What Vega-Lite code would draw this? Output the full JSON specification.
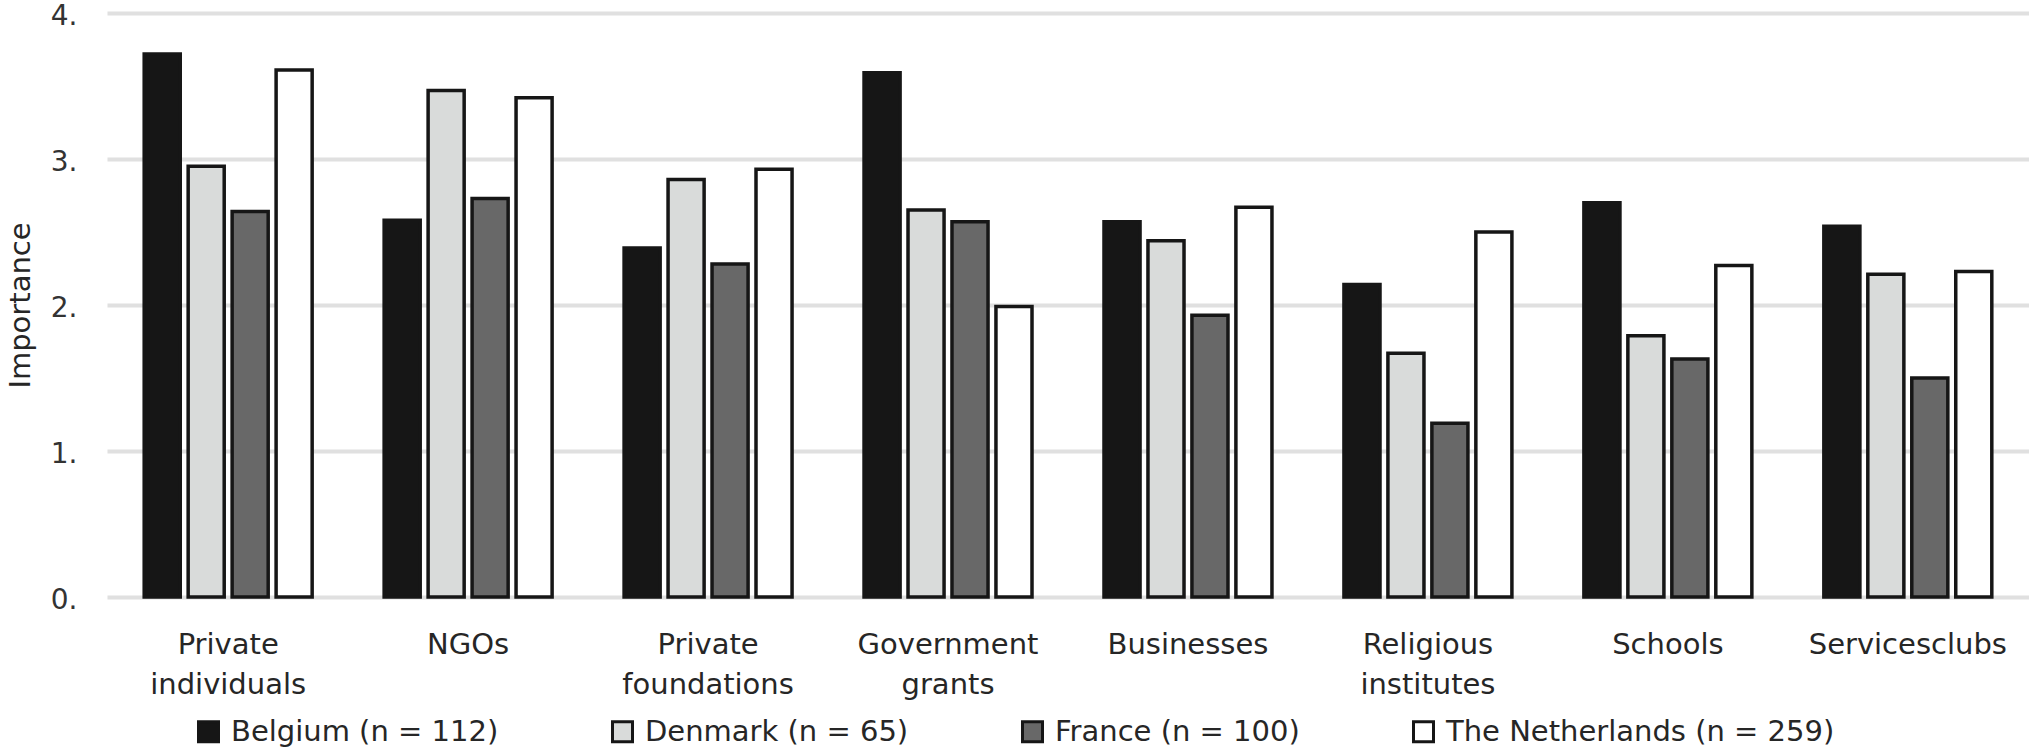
{
  "$schema": "https://vega.github.io/schema/vega-lite/v6.json",
  "autosize": {"type": "none"},
  "padding": {"left": 107, "top": 13, "right": 0, "bottom": 153},
  "width": 1922,
  "height": 584,
  "background": "#ffffff",
  "config": {
    "view": {"stroke": null},
    "font": "DejaVu Sans"
  },
  "data": {
    "values": [
      {"source": "Private individuals", "country": "Belgium (n = 112)", "importance": 3.72},
      {"source": "Private individuals", "country": "Denmark (n = 65)", "importance": 2.95},
      {"source": "Private individuals", "country": "France (n = 100)", "importance": 2.64},
      {"source": "Private individuals", "country": "The Netherlands (n = 259)", "importance": 3.61},
      {"source": "NGOs", "country": "Belgium (n = 112)", "importance": 2.58},
      {"source": "NGOs", "country": "Denmark (n = 65)", "importance": 3.47},
      {"source": "NGOs", "country": "France (n = 100)", "importance": 2.73},
      {"source": "NGOs", "country": "The Netherlands (n = 259)", "importance": 3.42},
      {"source": "Private foundations", "country": "Belgium (n = 112)", "importance": 2.39},
      {"source": "Private foundations", "country": "Denmark (n = 65)", "importance": 2.86},
      {"source": "Private foundations", "country": "France (n = 100)", "importance": 2.28},
      {"source": "Private foundations", "country": "The Netherlands (n = 259)", "importance": 2.93},
      {"source": "Government grants", "country": "Belgium (n = 112)", "importance": 3.59},
      {"source": "Government grants", "country": "Denmark (n = 65)", "importance": 2.65},
      {"source": "Government grants", "country": "France (n = 100)", "importance": 2.57},
      {"source": "Government grants", "country": "The Netherlands (n = 259)", "importance": 1.99},
      {"source": "Businesses", "country": "Belgium (n = 112)", "importance": 2.57},
      {"source": "Businesses", "country": "Denmark (n = 65)", "importance": 2.44},
      {"source": "Businesses", "country": "France (n = 100)", "importance": 1.93},
      {"source": "Businesses", "country": "The Netherlands (n = 259)", "importance": 2.67},
      {"source": "Religious institutes", "country": "Belgium (n = 112)", "importance": 2.14},
      {"source": "Religious institutes", "country": "Denmark (n = 65)", "importance": 1.67},
      {"source": "Religious institutes", "country": "France (n = 100)", "importance": 1.19},
      {"source": "Religious institutes", "country": "The Netherlands (n = 259)", "importance": 2.5},
      {"source": "Schools", "country": "Belgium (n = 112)", "importance": 2.7},
      {"source": "Schools", "country": "Denmark (n = 65)", "importance": 1.79},
      {"source": "Schools", "country": "France (n = 100)", "importance": 1.63},
      {"source": "Schools", "country": "The Netherlands (n = 259)", "importance": 2.27},
      {"source": "Servicesclubs", "country": "Belgium (n = 112)", "importance": 2.54},
      {"source": "Servicesclubs", "country": "Denmark (n = 65)", "importance": 2.21},
      {"source": "Servicesclubs", "country": "France (n = 100)", "importance": 1.5},
      {"source": "Servicesclubs", "country": "The Netherlands (n = 259)", "importance": 2.23}
    ]
  },
  "mark": {"type": "bar", "stroke": "#161616", "strokeWidth": 3.5},
  "encoding": {
    "x": {
      "field": "source",
      "type": "nominal",
      "sort": ["Private individuals", "NGOs", "Private foundations", "Government grants", "Businesses", "Religious institutes", "Schools", "Servicesclubs"],
      "scale": {"paddingInner": 0.3, "paddingOuter": 0.155},
      "axis": {
        "title": null,
        "labelAngle": 0,
        "labelExpr": "split(datum.label, ' ')",
        "labelFont": "DejaVu Sans",
        "labelFontSize": 29,
        "labelColor": "#262626",
        "labelLineHeight": 40,
        "labelBaseline": "top",
        "labelPadding": 33,
        "labelLimit": 0,
        "labelOverlap": false,
        "ticks": false,
        "domain": false,
        "grid": false
      }
    },
    "xOffset": {
      "field": "country",
      "type": "nominal",
      "sort": ["Belgium (n = 112)", "Denmark (n = 65)", "France (n = 100)", "The Netherlands (n = 259)"],
      "scale": {"paddingInner": 0.18, "paddingOuter": 0}
    },
    "y": {
      "field": "importance",
      "type": "quantitative",
      "scale": {"domain": [0, 4], "nice": false},
      "axis": {
        "title": "Importance",
        "titleFont": "DejaVu Sans",
        "titleFontSize": 29,
        "titleFontWeight": "normal",
        "titleColor": "#262626",
        "titlePadding": 15,
        "values": [0, 1, 2, 3, 4],
        "labelExpr": "datum.value + '.'",
        "labelFont": "DejaVu Sans",
        "labelFontSize": 28,
        "labelColor": "#333333",
        "labelPadding": 30,
        "labelOffset": 3,
        "labelFlush": false,
        "labelLimit": 0,
        "ticks": false,
        "domain": false,
        "grid": true,
        "gridColor": "#e0e0e0",
        "gridWidth": 4
      }
    },
    "fill": {
      "field": "country",
      "type": "nominal",
      "sort": ["Belgium (n = 112)", "Denmark (n = 65)", "France (n = 100)", "The Netherlands (n = 259)"],
      "scale": {
        "domain": ["Belgium (n = 112)", "Denmark (n = 65)", "France (n = 100)", "The Netherlands (n = 259)"],
        "range": ["#161616", "#d9dbda", "#686868", "#ffffff"]
      },
      "legend": {
        "title": null,
        "orient": "none",
        "direction": "horizontal",
        "legendX": 87,
        "legendY": 704,
        "padding": 0,
        "columnPadding": 107,
        "symbolType": "square",
        "symbolSize": 400,
        "symbolStrokeColor": "#161616",
        "symbolStrokeWidth": 3,
        "symbolOpacity": 1,
        "labelFont": "DejaVu Sans",
        "labelFontSize": 29,
        "labelColor": "#262626",
        "labelOffset": 8,
        "labelLimit": 0
      }
    }
  }
}
